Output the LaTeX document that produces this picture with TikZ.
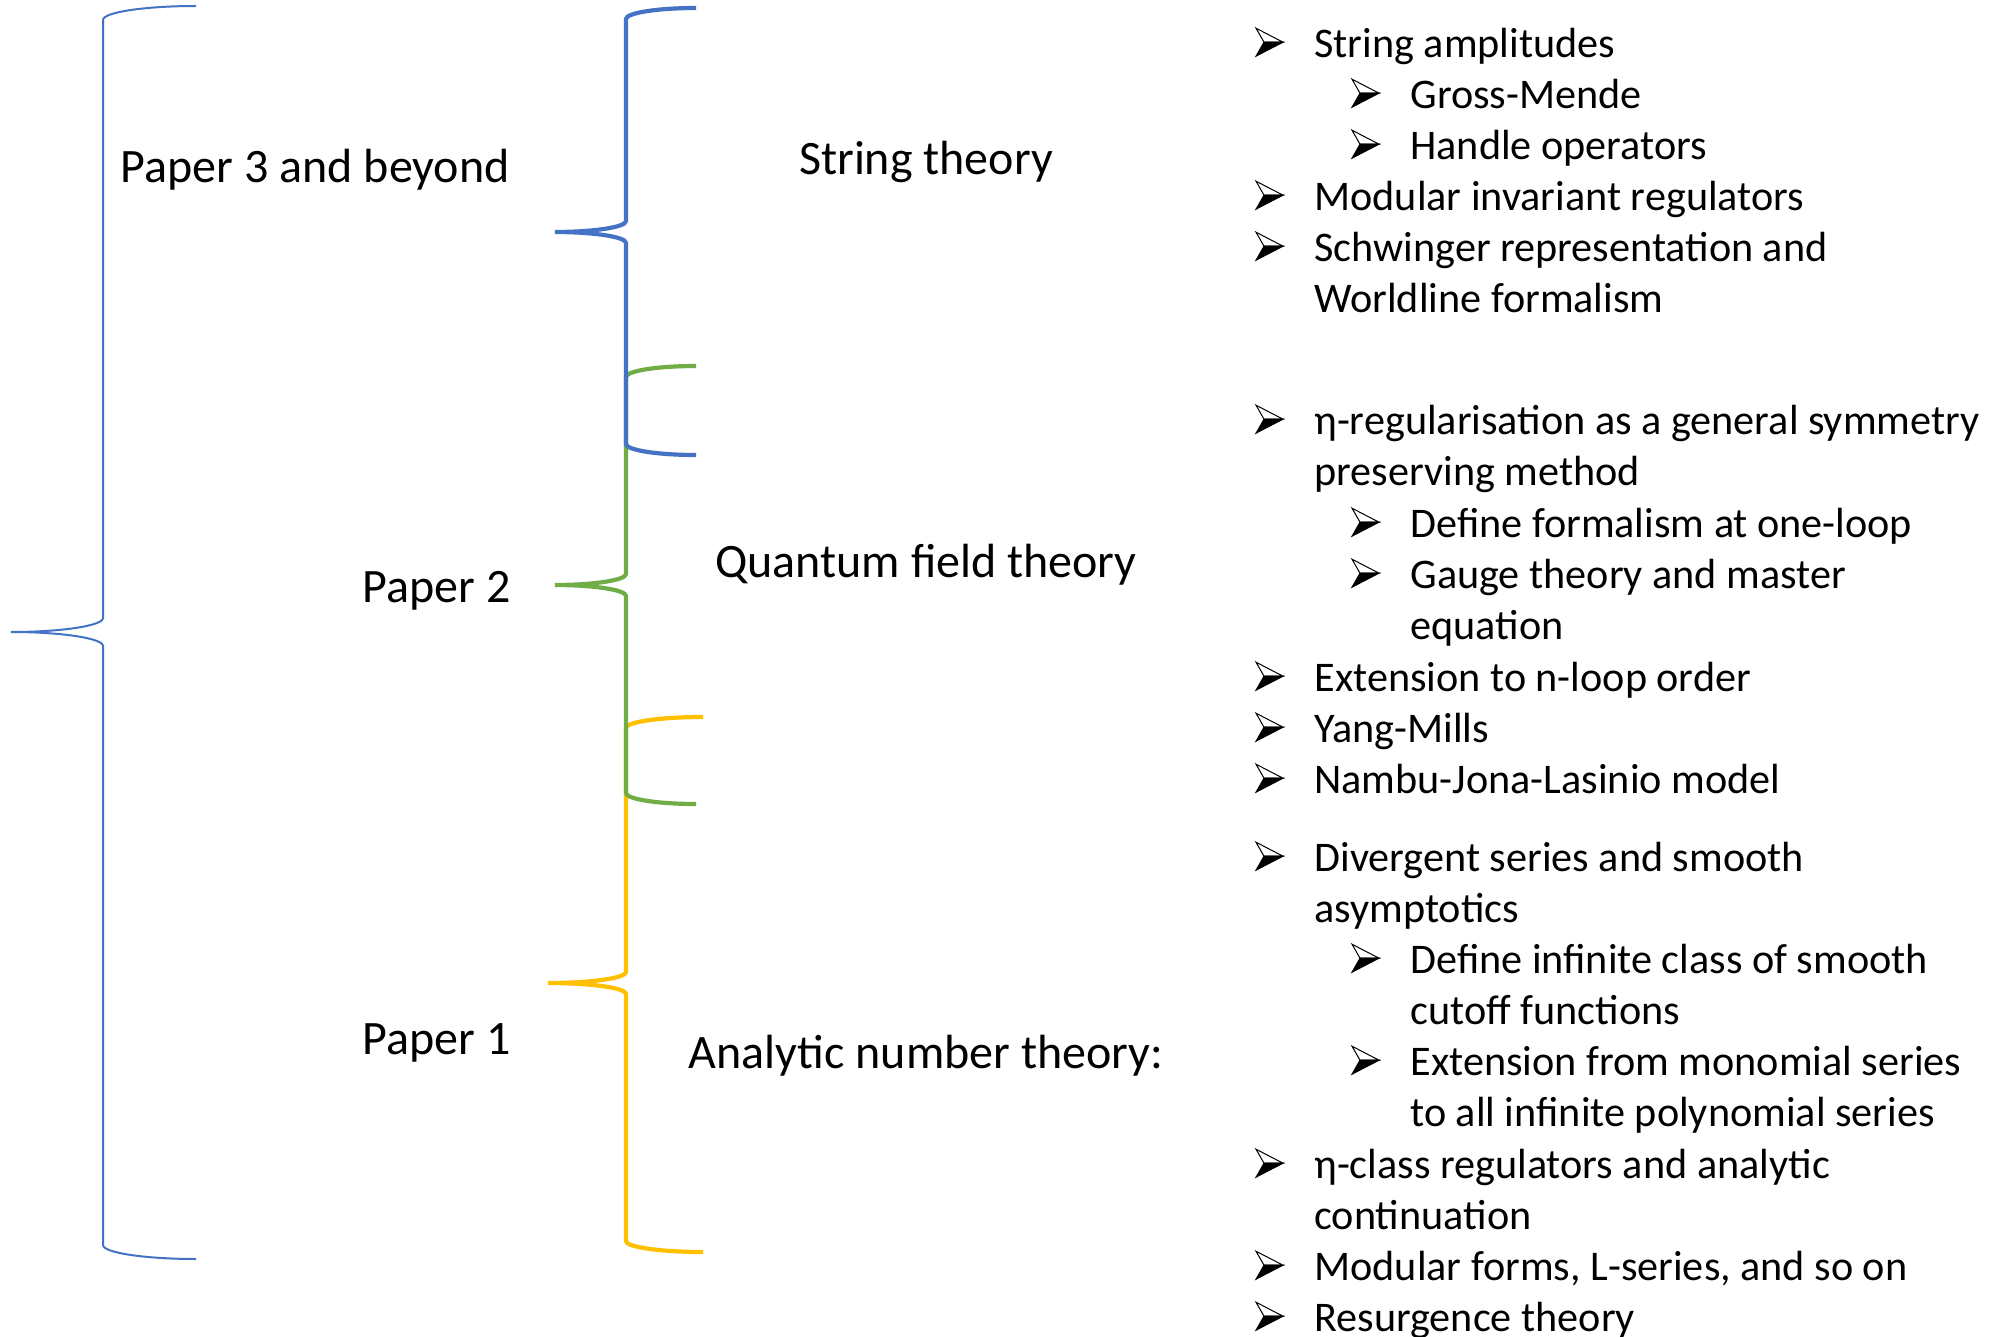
\documentclass[tikz,border=0pt]{standalone}
\usepackage{fontspec}
\setmainfont{Carlito}
\definecolor{pblue}{HTML}{4472C4}
\definecolor{pgreen}{HTML}{70AD47}
\definecolor{pyellow}{HTML}{FFC000}
\newcommand\labfont{\fontsize{24}{29}\selectfont}
\newcommand\itmfont{\fontsize{21.1}{25.6}\selectfont}
% #1 style, #2 x tips, #3 y top, #4 x bar, #5 x middle tip, #6 y middle, #7 y bottom, #8 ry
\newcommand\mybrace[8]{%
  \pgfmathsetmacro\rxa{#2-#4}%
  \pgfmathsetmacro\rxb{#4-#5}%
  \draw[#1] (#2,#3) .. controls ({#2-0.5523*\rxa},#3) and (#4,{#3+#8-0.5523*#8}) .. (#4,{#3+#8})
    -- (#4,{#6-#8}) .. controls (#4,{#6-#8+0.5523*#8}) and ({#5+0.5523*\rxb},#6) .. (#5,#6)
    .. controls ({#5+0.5523*\rxb},#6) and (#4,{#6+#8-0.5523*#8}) .. (#4,{#6+#8})
    -- (#4,{#7-#8}) .. controls (#4,{#7-#8+0.5523*#8}) and ({#2-0.5523*\rxa},#7) .. (#2,#7);}
\newcommand\itm[4]{%
  \pic at (#2,#3) {bul};
  \node[itm] (#1) at ({#2+58},#3) {#4};}
\begin{document}
\begin{tikzpicture}[x=0.5pt,y=-0.5pt,
  lab/.style={font=\labfont, inner sep=0pt},
  itm/.style={font=\itmfont, inner sep=0pt, anchor=base west},
  thinbrace/.style={draw=pblue, line width=1pt},
  thickbrace/.style={line width=2.1pt},
  bul/.pic={
    \filldraw[fill=white, draw=black, line width=0.5pt, line join=miter] (0,-29) -- (27,-15) -- (8,-15) -- cycle;
    \fill[black] (8,-15) -- (27,-15) -- (0,-1) -- cycle;
    \draw[black, line width=0.5pt, line join=miter] (8,-15) -- (27,-15) -- (0,-1) -- cycle;
  }]
\useasboundingbox (0,0) rectangle (1992,1337);
\fill[white] (0,0) rectangle (1992,1337);

% braces
\mybrace{thinbrace}{196}{6}{103}{11}{632}{1259}{14}
\mybrace{thickbrace, draw=pyellow}{703}{717}{626}{548}{983}{1252}{11}
\mybrace{thickbrace, draw=pgreen}{696}{366}{626}{555}{585}{804}{11}
\mybrace{thickbrace, draw=pblue}{696}{8}{626}{555}{232}{455}{11}

% paper labels
\node[lab, anchor=base east] (p3) at (510,183) {Paper 3 and beyond};
\node[lab, anchor=base east] (p2) at (511,602) {Paper 2};
\node[lab, anchor=base east] (p1) at (511,1054) {Paper 1};

% topic labels
\node[lab, anchor=base] (st) at (926,175) {String theory};
\node[lab, anchor=base] (qft) at (926,577) {Quantum field theory};
\node[lab, anchor=base] (ant) at (926,1068) {Analytic number theory:};

\begin{scope}[yshift=-0.6pt]
% group 1
\itm{a1}{1256}{56}{String amplitudes}
\itm{a2}{1352}{107}{Gross-Mende}
\itm{a3}{1352}{158}{Handle operators}
\itm{a4}{1256}{209}{Modular invariant regulators}
\itm{a5}{1256}{260}{Schwinger representation and}
\node[itm] (a5b) at (1314,311) {Worldline formalism};

% group 2
\itm{b1}{1256}{433}{η-regularisation as a general symmetry}
\node[itm] (b1b) at (1314,484) {preserving method};
\itm{b2}{1352}{536}{Define formalism at one-loop}
\itm{b3}{1352}{587}{Gauge theory and master}
\node[itm] (b3b) at (1410,638) {equation};
\itm{b4}{1256}{690}{Extension to n-loop order}
\itm{b5}{1256}{741}{Yang-Mills}
\itm{b6}{1256}{792}{Nambu-Jona-Lasinio model}

% group 3
\itm{c1}{1256}{870}{Divergent series and smooth}
\node[itm] (c1b) at (1314,921) {asymptotics};
\itm{c2}{1352}{972}{Define infinite class of smooth}
\node[itm] (c2b) at (1410,1023) {cutoff functions};
\itm{c3}{1352}{1074}{Extension from monomial series}
\node[itm] (c3b) at (1410,1125) {to all infinite polynomial series};
\itm{c4}{1256}{1177}{η-class regulators and analytic}
\node[itm] (c4b) at (1314,1228) {continuation};
\itm{c5}{1256}{1279}{Modular forms, L-series, and so on}
\itm{c6}{1256}{1330}{Resurgence theory}
\end{scope}
\end{tikzpicture}
\end{document}
